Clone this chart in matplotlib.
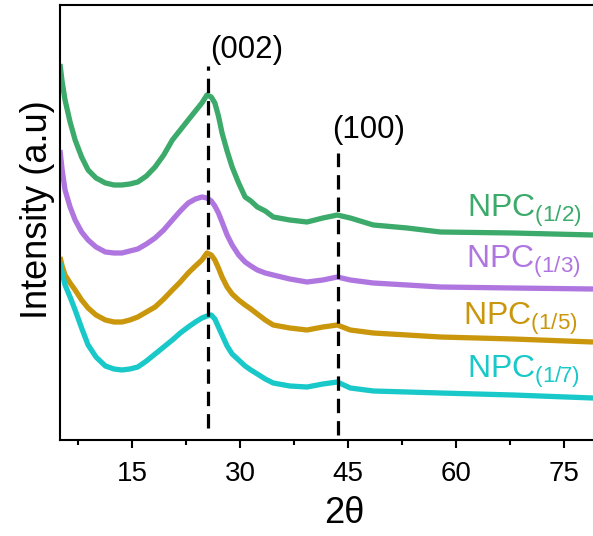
import matplotlib
matplotlib.use("Agg")
import matplotlib.pyplot as plt
from matplotlib.ticker import MultipleLocator

plt.rcParams['font.family'] = ['Liberation Sans', 'DejaVu Sans']
plt.rcParams['mathtext.fontset'] = 'custom'
plt.rcParams['mathtext.rm'] = 'Liberation Sans'
plt.rcParams['mathtext.it'] = 'Liberation Sans'

two_theta = [5.0, 5.3, 5.7, 6.4, 7.1, 8.0, 8.9, 10.0, 11.3, 12.5, 13.6, 14.7,
             15.8, 17.0, 18.2, 19.4, 20.6, 21.7, 22.8, 23.8, 24.7, 25.4, 26.0,
             26.5, 27.0, 27.5, 28.2, 28.9, 29.8, 30.7, 31.5, 32.4, 33.5, 34.6,
             36.9, 39.3, 41.5, 43.5, 45.3, 48.5, 53.2, 57.8, 67.9, 79.0]
npc_12 = [376, 358, 340, 318, 300, 283, 270, 262, 257, 255, 255, 256, 258, 264,
          273, 285, 300, 310, 320, 329, 337, 345, 343, 337, 324, 307, 289, 273,
          257, 243, 239, 233, 229, 223, 220, 218, 222, 225, 222, 215, 212, 208,
          207, 205]
npc_13 = [290, 270, 250, 233, 220, 208, 200, 193, 188, 187, 187, 189, 191, 196,
          202, 210, 220, 229, 237, 241, 243, 242, 239, 234, 227, 218, 205, 195,
          185, 178, 174, 170, 167, 165, 161, 158, 160, 163, 160, 157, 155, 153,
          152, 151]
npc_15 = [183, 174, 165, 157, 150, 140, 132, 125, 120, 118, 118, 120, 123, 128,
          133, 141, 150, 158, 167, 174, 180, 187, 185, 180, 172, 163, 153, 146,
          140, 135, 131, 126, 120, 115, 112, 110, 113, 115, 110, 107, 105, 103,
          101, 98]
npc_17 = [177, 167, 155, 143, 130, 112, 95, 83, 74, 71, 70, 71, 73, 79,
          86, 93, 100, 107, 113, 118, 122, 124, 125, 121, 113, 105, 94, 86,
          80, 74, 70, 66, 61, 57, 54, 53, 56, 58, 52, 49, 48, 47,
          45, 42]

series = [npc_12, npc_13, npc_15, npc_17]
labels = ['NPC$_{(1/2)}$', 'NPC$_{(1/3)}$', 'NPC$_{(1/5)}$', 'NPC$_{(1/7)}$']
colors = ['#3BAA6A', '#B076E0', '#C9960C', '#19C8C8']
label_pos = [(61.5, 223), (61.4, 172), (61.0, 115), (61.5, 62)]

peak_pos = [25.6, 43.6]
peak_names = ['(002)', '(100)']
peak_top = [374, 287]
peak_bottom = [12, 5]
peak_text = [(25.8, 382), (42.8, 302)]

fig = plt.figure(figsize=(5.93, 5.36), dpi=100)
ax = fig.add_axes([60/593, 1-440/536, 1-60/593, (440-5)/536])

for y, c, lab, (lx, ly) in zip(series, colors, labels, label_pos):
    ax.plot(two_theta, y, color=c, lw=3.8, solid_joinstyle='round',
            solid_capstyle='butt')
    ax.text(lx, ly, lab, color=c, fontsize=23, ha='left', va='baseline')

for x, t, b, name, (tx, ty) in zip(peak_pos, peak_top, peak_bottom, peak_names, peak_text):
    ax.plot([x, x], [b, t], color='black', lw=2.3, dashes=(4.5, 2.5))
    ax.text(tx, ty, name, fontsize=22.5, ha='left', va='baseline')

ax.set_xlim(5, 79)
ax.set_ylim(0, 435)
ax.xaxis.set_major_locator(MultipleLocator(15))
ax.xaxis.set_minor_locator(MultipleLocator(7.5))
ax.set_xticks([15, 30, 45, 60, 75])
ax.set_yticks([])
ax.tick_params(axis='x', which='major', direction='out', length=6, width=1.5,
               labelsize=20, pad=9)
ax.tick_params(axis='x', which='minor', direction='out', length=3.5, width=1.5)
for s in ['left', 'bottom', 'top']:
    ax.spines[s].set_linewidth(1.5)
ax.spines['right'].set_visible(False)

ax.set_xlabel('2θ', fontsize=26)
ax.xaxis.set_label_coords(0.533, -0.17)
ax.xaxis.label.set_va('center')
ax.set_ylabel('Intensity (a.u)', fontsize=26)
ax.yaxis.set_label_coords(-0.043, 0.529)
ax.yaxis.label.set_va('center')

fig.savefig('out.png', dpi=100)
